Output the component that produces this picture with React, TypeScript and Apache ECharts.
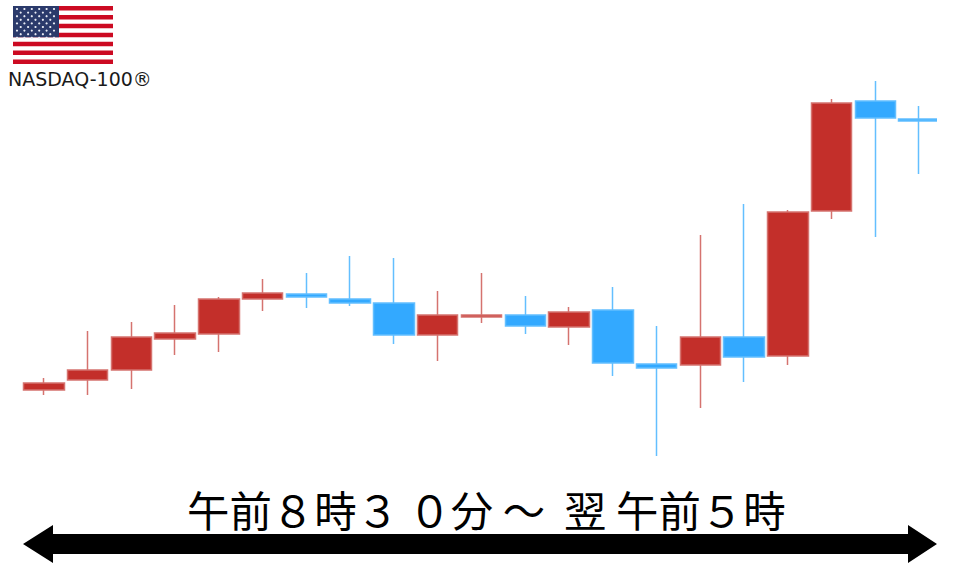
import React, { useEffect, useRef } from "react";
import * as echarts from "echarts";

const slots = ["1","2","3","4","5","6","7","8","9","10","11","12","13","14","15","16","17","18","19","20","21"];
const opens = [177,187,197,228,233,268,273,268,264,232,250,252,240,257,203,202,230,211,356,466,448];
const closes = [184,197,230,234,268,274,270,264,232,252,252,241,255,204,199,230,210,355,464,449,446];
const lows = [172,172,178,212,215,256,259,261,223,206,244,233,222,191,111,159,185,202,348,330,393];
const highs = [189,236,245,262,270,288,294,311,309,276,294,271,260,280,241,332,363,357,468,486,461];

const RED = "#c32f2a";
const RED_EDGE = "#d5736f";
const BLUE = "#33a9ff";
const BLUE_EDGE = "#63bfff";
const TITLE = "午前８時３ ０分 ～  翌 午前５時";
const FLAG_LABEL = "NASDAQ-100®";

function flagGraphics() {
  const x = 13, y = 6, w = 100, h = 58;
  const out: any[] = [{ type: "rect", shape: { x, y, width: w, height: h }, style: { fill: "#ffffff" } }];
  const sh = h / 13;
  for (let i = 0; i < 13; i += 2) {
    out.push({ type: "rect", shape: { x, y: y + i * sh, width: w, height: sh }, style: { fill: "#cc0a22" } });
  }
  out.push({ type: "rect", shape: { x, y, width: 46, height: sh * 7 }, style: { fill: "#2b3a6b" } });
  for (let r = 0; r < 9; r++) {
    const n = r % 2 === 0 ? 6 : 5;
    for (let c = 0; c < n; c++) {
      out.push({
        type: "circle",
        shape: { cx: x + (r % 2 === 0 ? 4 : 7.7) + c * 7.4, cy: y + 3 + r * 3.6, r: 1.1 },
        style: { fill: "#e8ebf4" },
      });
    }
  }
  return out;
}

export default function App() {
  const ref = useRef<HTMLDivElement>(null);
  useEffect(() => {
    document.body.style.margin = "0";
    const chart = echarts.init(ref.current!, undefined, { renderer: "svg" });
    chart.setOption({
      animation: false,
      backgroundColor: "#ffffff",
      grid: { left: 22, right: 19, top: 0, bottom: 0 },
      xAxis: { type: "category", data: slots, show: false },
      yAxis: { type: "value", min: 0, max: 567, show: false },
      series: [
        {
          type: "candlestick",
          barWidth: 41,
          data: slots.map((_, i) => [opens[i], closes[i], lows[i], highs[i]]),
          itemStyle: {
            color: RED,
            color0: BLUE,
            borderColor: RED_EDGE,
            borderColor0: BLUE_EDGE,
            borderWidth: 1.5,
          },
        },
      ],
      graphic: [
        ...flagGraphics(),
        { type: "rect", z: 10, shape: { x: 937, y: 110, width: 8, height: 20 }, style: { fill: "#ffffff" } },
        {
          type: "text",
          x: 8,
          y: 69,
          style: { text: FLAG_LABEL, fontFamily: "DejaVu Sans", fontSize: 19, fill: "#1a1a1a" },
        },
        {
          type: "text",
          x: 187,
          y: 487,
          style: { text: TITLE, fontFamily: "Noto Sans CJK JP", fontSize: 42.4, fill: "#000000" },
        },
        {
          type: "polygon",
          shape: {
            points: [
              [23, 544],[53, 525],[53, 534],[908, 534],[908, 525],[937, 544],[908, 563],[908, 554],[53, 554],[53, 563],
            ],
          },
          style: { fill: "#000000" },
        },
      ],
    });
    return () => chart.dispose();
  }, []);
  return <div ref={ref} style={{ width: 960, height: 567 }} />;
}
